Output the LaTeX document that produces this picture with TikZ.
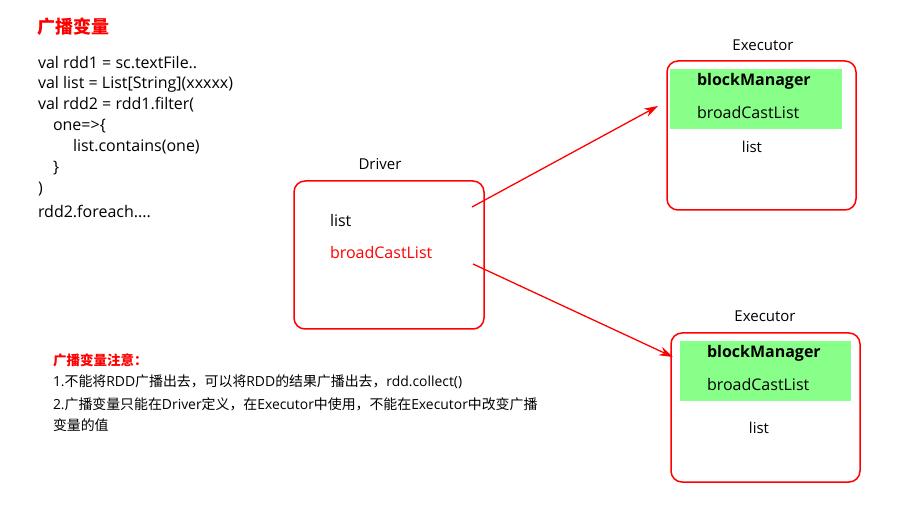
\documentclass[tikz,border=0pt]{standalone}
\usepackage{fontspec}
\setmainfont{Open Sans}
\newfontfamily\cjk{Noto Sans CJK SC}
\newcommand\zh[1]{{\cjk #1}}
\usetikzlibrary{arrows.meta}
\definecolor{boxred}{RGB}{255,0,0}
\definecolor{mgreen}{RGB}{136,255,136}
\begin{document}
\begin{tikzpicture}[x=1pt,y=-1pt,
  every node/.style={inner sep=0pt,outer sep=0pt},
  txt/.style={anchor=west,font=\fontsize{16}{18}\selectfont},
  note/.style={anchor=west,font=\fontsize{13.9}{16}\selectfont},
  ctr/.style={anchor=center,font=\fontsize{15}{18}\selectfont},
  frame/.style={draw=boxred,line width=1.5pt,rounded corners=11pt},
  greenbg/.style={fill=mgreen,draw=none},
  link/.style={draw=boxred,line width=1.3pt,-{Stealth[length=14pt,width=9pt]}}]
\useasboundingbox (0,0) rectangle (897,510);
% title
\node[anchor=west,text=boxred,font=\fontsize{18}{20}\selectfont\cjk\bfseries] (title) at (37,27) {广播变量};
% code
\node[txt] (c1) at (38,63) {val rdd1 = sc.textFile..};
\node[txt] (c2) at (38,84) {val list = List[String](xxxxx)};
\node[txt] (c3) at (38,105) {val rdd2 = rdd1.filter(};
\node[txt] (c4) at (53,126) {one=>\{};
\node[txt] (c5) at (73,147) {list.contains(one)};
\node[txt] (c6) at (53,168) {\}};
\node[txt] (c7) at (38,189) {)};
\node[txt] (c8) at (38,211) {rdd2.foreach....};
% driver
\node[ctr] (dlabel) at (380,164) {Driver};
\draw[frame] (294,181) rectangle (484,329);
\node[txt] (dlist) at (330,221) {list};
\node[txt,text=boxred] (dbc) at (330,253) {broadCastList};
\coordinate (d1) at (472,207);
\coordinate (d2) at (473,264);
% executor 1
\node[ctr] (e1label) at (763,45) {Executor};
\draw[frame] (667,61) rectangle (856,210);
\fill[greenbg] (670,69) rectangle (842,129);
\node[txt,font=\fontsize{16}{18}\selectfont\bfseries] (e1bm) at (697,81) {blockManager};
\node[txt] (e1bc) at (697,113) {broadCastList};
\node[ctr] (e1list) at (752,147) {list};
\coordinate (e1in) at (658,106);
% executor 2
\node[ctr] (e2label) at (765,316) {Executor};
\draw[frame] (671,333) rectangle (860,482);
\fill[greenbg] (680,341) rectangle (851,401);
\node[txt,font=\fontsize{16}{18}\selectfont\bfseries] (e2bm) at (707,353) {blockManager};
\node[txt] (e2bc) at (707,385) {broadCastList};
\node[ctr] (e2list) at (759,428) {list};
\coordinate (e2in) at (673,357);
% arrows
\draw[link] (d1) -- (e1in);
\draw[link] (d2) -- (e2in);
% notes
\node[note,text=boxred,font=\fontsize{13.5}{16}\selectfont\cjk\bfseries] (n0) at (53,360) {广播变量注意：};
\node[note] (n1) at (53,382) {1.\zh{不能将}RDD\zh{广播出去，可以将}RDD\zh{的结果广播出去，}rdd.collect()};
\node[note] (n2) at (53,404) {2.\zh{广播变量只能在}Driver\zh{定义，在}Executor\zh{中使用，不能在}Executor\zh{中改变广播}};
\node[note] (n3) at (53,425) {\zh{变量的值}};
\end{tikzpicture}
\end{document}
